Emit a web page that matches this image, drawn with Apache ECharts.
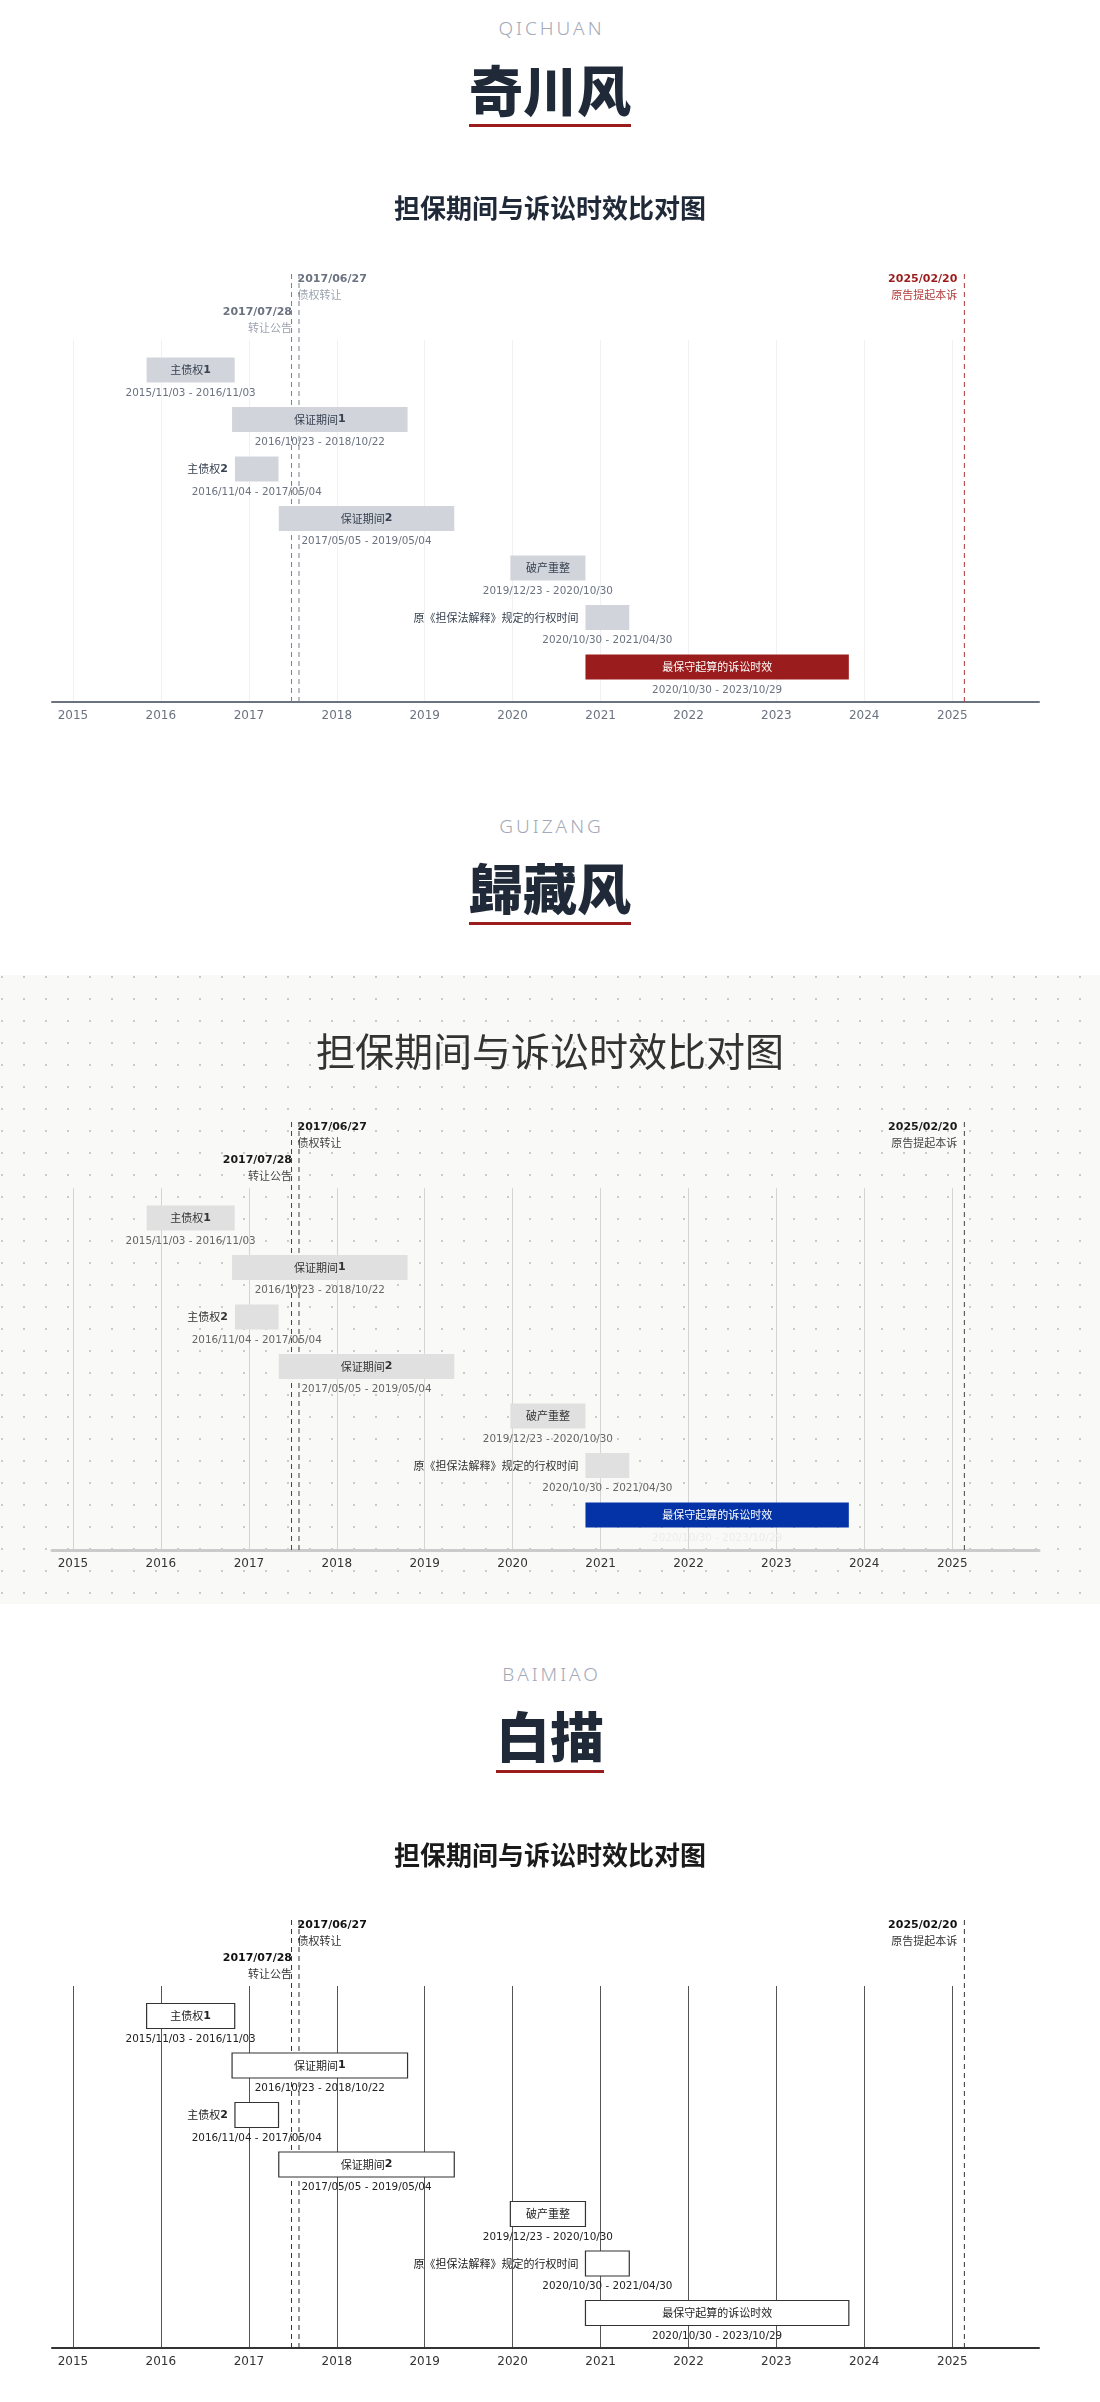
<!DOCTYPE html>
<html lang="zh">
<head>
<meta charset="utf-8">
<title>担保期间与诉讼时效比对图</title>
<script src="https://cdn.jsdelivr.net/npm/echarts@6.0.0/dist/echarts.min.js"></script>
<style>
  html, body { margin:0; padding:0; background:#ffffff; }
  body { position:relative; width:1100px; height:2402px; overflow:hidden; }
  .tag { position:absolute; left:0; width:1100px; text-align:center; font-family:'Noto Sans','Open Sans',sans-serif; font-weight:300; font-size:19px; line-height:19px; letter-spacing:3px; padding-left:3px; box-sizing:border-box; color:#a3a9b8; }
  .big { position:absolute; left:0; width:1100px; text-align:center; line-height:54px; }
  .big span { display:inline-block; font-family:'Noto Sans CJK SC',sans-serif; font-weight:900; font-size:54px; line-height:54px; color:#1f2937; padding-bottom:8px; border-bottom:3px solid #9b1c1c; }
  .chart { position:absolute; left:0; width:1100px; height:629px; }
  #c2 { background-color:#f9f9f7; background-image: radial-gradient(circle at center, #cbcbcb 0, #cbcbcb 0.8px, rgba(249,249,247,0) 1.3px); background-size:22px 22px; background-position:-9px -9px; }
</style>
</head>
<body>
  <div class="tag" style="top:19px">QICHUAN</div>
  <div class="big" style="top:62px"><span>奇川风</span></div>
  <div class="chart" id="c1" style="top:127px"></div>

  <div class="tag" style="top:817px">GUIZANG</div>
  <div class="big" style="top:860px"><span>歸藏风</span></div>
  <div class="chart" id="c2" style="top:975px"></div>

  <div class="tag" style="top:1665px">BAIMIAO</div>
  <div class="big" style="top:1708px"><span>白描</span></div>
  <div class="chart" id="c3" style="top:1773px"></div>

<script>
// ---------------- data ----------------
const chartTitle = '担保期间与诉讼时效比对图';
const taskNames = ['主债权1', '保证期间1', '主债权2', '保证期间2', '破产重整', '原《担保法解释》规定的行权时间', '最保守起算的诉讼时效'];
const taskStart = ['2015-11-03', '2016-10-23', '2016-11-04', '2017-05-05', '2019-12-23', '2020-10-30', '2020-10-30'];
const taskEnd   = ['2016-11-03', '2018-10-22', '2017-05-04', '2019-05-04', '2020-10-30', '2021-04-30', '2023-10-29'];
const highlightTask = '最保守起算的诉讼时效';
const eventDates = ['2017-06-27', '2017-07-28', '2025-02-20'];
const eventNotes = ['债权转让', '转让公告', '原告提起本诉'];

// ---------------- styles ----------------
const LATIN = '"DejaVu Sans", "Noto Sans CJK SC", sans-serif';
const CJK = '"Noto Sans CJK SC", "DejaVu Sans", sans-serif';
const DAY = 864e5;

const themes = {
  c1: {
    titleSize: 26, titleWeight: 'bold', titleColor: '#1f2937', titleCenter: 81,
    bar: '#d1d5db', barStroke: null, hl: '#9b1c1c', hlStroke: null, hlText: '#ffffff', hlDate: '#6b7280',
    text: '#374151', date: '#6b7280', grid: '#f0f1f3', axis: '#6b7280', axisW: 2, year: '#6b7280',
    evLine: '#7b8190', evDate: '#6b7280', evNote: '#9ca3af',
    lastLine: '#a8383c', lastDate: '#9b1c1c', lastNote: '#b23b3b'
  },
  c2: {
    titleSize: 39, titleWeight: 'normal', titleColor: '#333333', titleCenter: 76,
    bar: '#e0e0e0', barStroke: null, hl: '#0433a8', hlStroke: null, hlText: '#ffffff', hlDate: '#ececec',
    text: '#333333', date: '#666666', grid: '#d4d4d4', axis: '#cbcbcb', axisW: 3, year: '#333333',
    evLine: '#444444', evDate: '#1a1a1a', evNote: '#444444',
    lastLine: '#444444', lastDate: '#1a1a1a', lastNote: '#444444'
  },
  c3: {
    titleSize: 26, titleWeight: 'bold', titleColor: '#1a1a1a', titleCenter: 82,
    bar: '#ffffff', barStroke: '#333333', hl: '#ffffff', hlStroke: '#333333', hlText: '#222222', hlDate: '#222222',
    text: '#222222', date: '#222222', grid: '#555555', axis: '#333333', axisW: 2, year: '#333333',
    evLine: '#333333', evDate: '#111111', evNote: '#333333',
    lastLine: '#333333', lastDate: '#111111', lastNote: '#333333'
  }
};

function slash(d) { return d.replace(/-/g, '/'); }

function renderEvents(th) {
  return function (params, api) {
    const i = params.dataIndex;
    const cs = params.coordSys;
    const x = api.coord([api.value(0), 0])[0];
    const last = i === eventDates.length - 1;
    const gapDays = i > 0 ? (Date.parse(eventDates[i]) - Date.parse(eventDates[i - 1])) / DAY : Infinity;
    const level = gapDays < 120 ? 1 : 0;
    const side = (level === 1 || x > cs.x + cs.width * 0.75) ? 'left' : 'right';
    const tx = side === 'right' ? x + 6 : x - 7;
    const y1 = level ? cs.y - 27.5 : cs.y - 61;
    const y2 = y1 + 15.5;
    return {
      type: 'group',
      children: [
        { type: 'line', shape: { x1: x, y1: cs.y - 66, x2: x, y2: cs.y + cs.height },
          style: { stroke: last ? th.lastLine : th.evLine, lineWidth: 1, lineDash: [5, 4] } },
        { type: 'text', style: { x: tx, y: y1, text: slash(eventDates[i]), align: side === 'right' ? 'left' : 'right',
          verticalAlign: 'middle', fontSize: 11, fontWeight: 'bold', fontFamily: LATIN, fill: last ? th.lastDate : th.evDate } },
        { type: 'text', style: { x: tx, y: y2, text: eventNotes[i], align: side === 'right' ? 'left' : 'right',
          verticalAlign: 'middle', fontSize: 11, fontFamily: CJK, fill: last ? th.lastNote : th.evNote } }
      ]
    };
  };
}

function renderBars(th) {
  return function (params, api) {
    const i = params.dataIndex;
    const row = api.value(0);
    const a = api.coord([api.value(1), row]);
    const b = api.coord([api.value(2), row]);
    const h = 25;
    const x0 = a[0], x1 = b[0], y = a[1], w = x1 - x0;
    const hl = taskNames[i] === highlightTask;
    const inside = w >= 60;
    const color = hl ? th.hlText : th.text;
    const richText = taskNames[i].replace(/([A-Za-z0-9]+)/g, '{b|$1}');
    const stroke = hl ? th.hlStroke : th.barStroke;
    return {
      type: 'group',
      children: [
        { type: 'rect', shape: { x: x0, y: y - h / 2, width: w, height: h },
          style: { fill: hl ? th.hl : th.bar, stroke: stroke || null, lineWidth: stroke ? 1.2 : 0 } },
        { type: 'text', style: {
            x: inside ? (x0 + x1) / 2 : x0 - 7, y: y, text: richText,
            align: inside ? 'center' : 'right', verticalAlign: 'middle',
            fontSize: 11, fontFamily: CJK, fill: inside ? color : th.text,
            rich: { b: { fontSize: 11, fontWeight: 'bold', fontFamily: LATIN, fill: inside ? color : th.text } }
          } },
        { type: 'text', style: {
            x: (x0 + x1) / 2, y: y + 23, text: slash(taskStart[i]) + ' - ' + slash(taskEnd[i]),
            align: 'center', verticalAlign: 'middle', fontSize: 10.4, fontFamily: LATIN,
            fill: hl ? th.hlDate : th.date } }
      ]
    };
  };
}

function buildOption(th) {
  return {
    animation: false,
    title: {
      text: chartTitle, left: 'center', top: th.titleCenter - th.titleSize / 2, padding: 0,
      textStyle: { fontFamily: CJK, fontSize: th.titleSize, fontWeight: th.titleWeight, color: th.titleColor, lineHeight: th.titleSize }
    },
    grid: { left: 52, right: 61, top: 213, bottom: 54, containLabel: false },
    xAxis: {
      type: 'time', min: '2014-10-06', max: '2025-12-27',
      splitNumber: 11, minInterval: 365 * DAY, maxInterval: 366 * DAY,
      axisLine: { show: true, onZero: false, lineStyle: { color: th.axis, width: th.axisW } },
      axisTick: { show: false },
      axisLabel: { formatter: '{yyyy}', color: th.year, fontSize: 12, fontFamily: LATIN, margin: 8, fontWeight: 'normal',
        showMinLabel: false, showMaxLabel: false },
      splitLine: { show: true, showMinLine: false, showMaxLine: false, lineStyle: { color: th.grid, width: 1 } }
    },
    yAxis: { type: 'value', inverse: true, min: -0.606, max: 6.707, show: false },
    series: [
      {
        type: 'custom', name: 'events', clip: false, z: 2,
        dimensions: [{ name: 'date', type: 'time' }],
        encode: { x: 0 },
        data: eventDates.map(d => [d]),
        renderItem: renderEvents(th)
      },
      {
        type: 'custom', name: 'tasks', clip: false, z: 3,
        dimensions: [{ name: 'row', type: 'number' }, { name: 'start', type: 'time' }, { name: 'end', type: 'time' }],
        encode: { x: [1, 2], y: 0 },
        data: taskNames.map((n, i) => [i, taskStart[i], taskEnd[i]]),
        renderItem: renderBars(th)
      }
    ]
  };
}

['c1', 'c2', 'c3'].forEach(id => {
  const chart = echarts.init(document.getElementById(id), null, { renderer: 'canvas' });
  chart.setOption(buildOption(themes[id]));
});
</script>
</body>
</html>
